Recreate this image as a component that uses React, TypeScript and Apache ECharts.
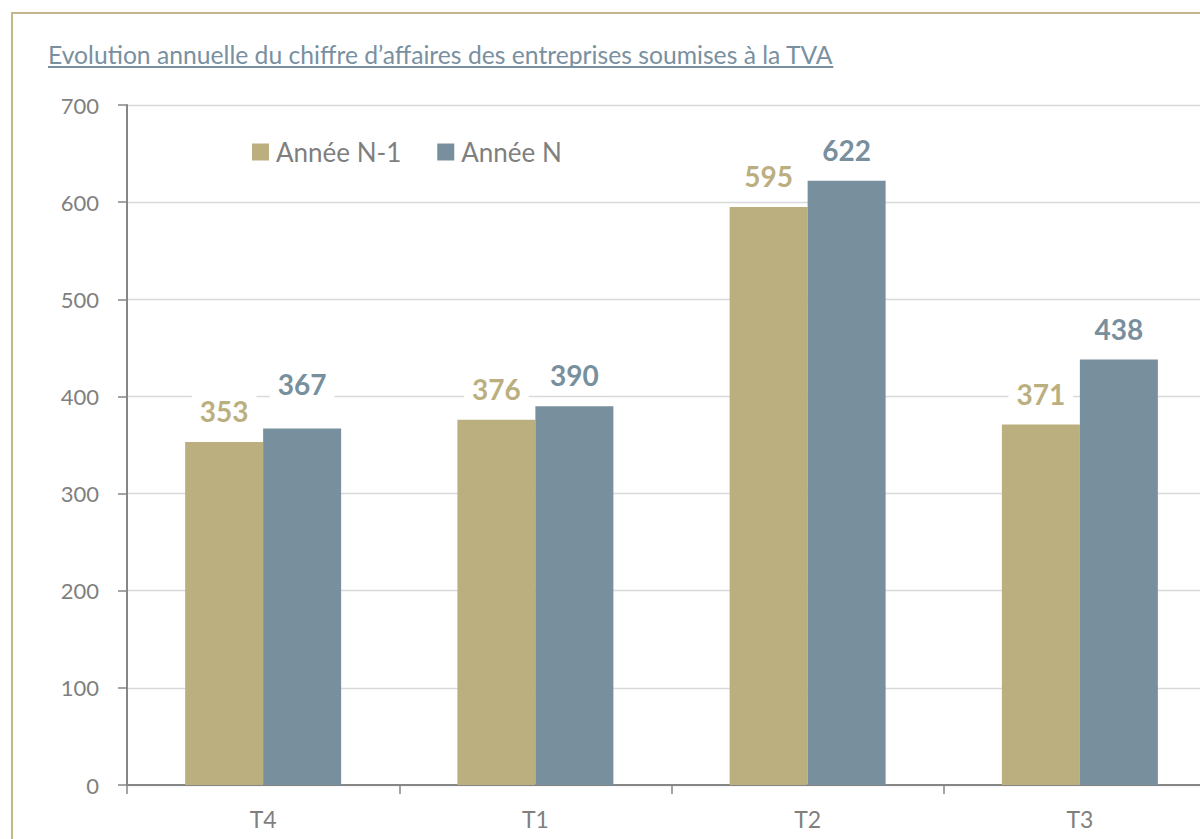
import React, { useEffect, useRef } from "react";
import * as echarts from "echarts";

const TITLE = "Evolution annuelle du chiffre d’affaires des entreprises soumises à la TVA";
const categories = ["T4", "T1", "T2", "T3"];
const seriesNames = ["Année N-1", "Année N"];
const valuesPrev = [353, 376, 595, 371];
const valuesCurr = [367, 390, 622, 438];
const yTicks = { min: 0, max: 700, interval: 100 };

const COL_PREV = "#BCAF7F";
const COL_CURR = "#788F9E";
const FONT = "Lato, 'Open Sans', sans-serif";
const TITLE_SIZE = 24.7;

export default function App() {
  const ref = useRef<HTMLDivElement>(null);
  useEffect(() => {
    if (!ref.current) return;
    const chart = echarts.init(ref.current, null, { renderer: "svg" });
    const ctx = document.createElement("canvas").getContext("2d");
    let titleW = 788;
    if (ctx) {
      ctx.font = `${TITLE_SIZE}px Lato`;
      titleW = ctx.measureText(TITLE).width;
    }
    const labelBase = {
      show: true,
      position: "top",
      distance: 11,
      fontFamily: FONT,
      fontSize: 28,
      fontWeight: "bold",
      lineHeight: 30,
      backgroundColor: "#ffffff",
      padding: [5, 8],
    };
    chart.setOption({
      animation: false,
      backgroundColor: "#ffffff",
      textStyle: { fontFamily: FONT },
      graphic: [
        {
          type: "rect",
          shape: { x: 12, y: 13, width: 1300, height: 1000 },
          style: { fill: "none", stroke: "#C3B68A", lineWidth: 2 },
          z: -10,
        },
        {
          type: "text",
          x: 48,
          y: 54,
          style: {
            text: TITLE,
            fill: "#7990A0",
            font: `${TITLE_SIZE}px ${FONT}`,
            verticalAlign: "middle",
            align: "left",
          },
        },
        {
          type: "line",
          shape: { x1: 48, y1: 67, x2: 48 + titleW, y2: 67 },
          style: { stroke: "#7990A0", lineWidth: 2 },
        },
      ],
      legend: {
        data: seriesNames,
        left: 252,
        top: 137,
        padding: 0,
        icon: "rect",
        itemWidth: 17,
        itemHeight: 17,
        itemGap: 36,
        textStyle: {
          fontFamily: FONT,
          fontSize: 26,
          color: "#7f7f7f",
          lineHeight: 30,
          padding: [0, 0, 0, 2],
        },
      },
      grid: { left: 127, top: 105, width: 1089, height: 680, containLabel: false },
      xAxis: {
        type: "category",
        data: categories,
        axisLine: { lineStyle: { color: "#868686", width: 2 } },
        axisTick: { show: true, length: 9, lineStyle: { color: "#868686", width: 1.5 } },
        axisLabel: { fontFamily: FONT, fontSize: 23, color: "#7f7f7f", margin: 22 },
      },
      yAxis: {
        type: "value",
        min: yTicks.min,
        max: yTicks.max,
        interval: yTicks.interval,
        axisLine: { show: true, lineStyle: { color: "#868686", width: 2 } },
        axisTick: { show: true, length: 9, lineStyle: { color: "#868686", width: 1.5 } },
        axisLabel: { fontFamily: FONT, fontSize: 22, color: "#7f7f7f", margin: 28 },
        splitLine: { lineStyle: { color: "#d9d9d9", width: 1.3 } },
      },
      series: [
        {
          name: seriesNames[0],
          type: "bar",
          barWidth: 78,
          barGap: "0%",
          itemStyle: { color: COL_PREV },
          label: { ...labelBase, color: COL_PREV },
          data: valuesPrev,
        },
        {
          name: seriesNames[1],
          type: "bar",
          barWidth: 78,
          barGap: "0%",
          itemStyle: { color: COL_CURR },
          label: { ...labelBase, color: COL_CURR },
          data: valuesCurr.map((v, i) =>
            i === 0 ? { value: v, label: { offset: [0, -13] } } : v
          ),
        },
      ],
    });
    return () => chart.dispose();
  }, []);
  return (
    <div
      style={{
        position: "fixed",
        left: 0,
        top: 0,
        width: 1200,
        height: 839,
        overflow: "hidden",
        background: "#fff",
      }}
    >
      <div ref={ref} style={{ width: 1260, height: 839 }} />
    </div>
  );
}
